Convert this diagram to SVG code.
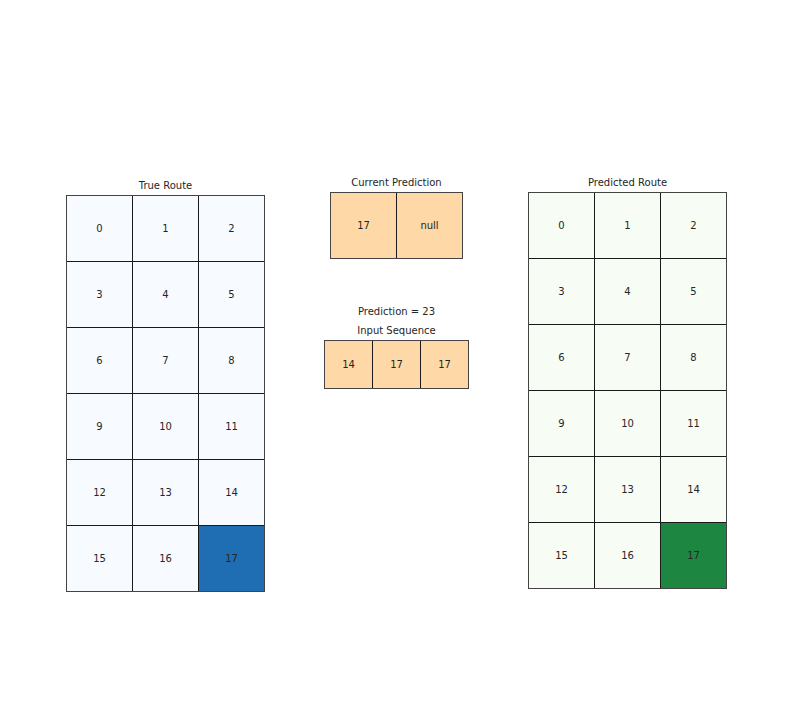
<svg xmlns="http://www.w3.org/2000/svg" width="792" height="720" viewBox="0 0 792 720">
<style>
text{font-family:"DejaVu Sans",Verdana,sans-serif;font-size:10px;fill:#262626;text-anchor:middle;dominant-baseline:central}
.c{stroke:#1a1a1a;stroke-width:1}
.b{fill:#f7fbff}.bd{fill:#1f6db3}
.g{fill:#f7fcf5}.gd{fill:#1d8641}
.o{fill:#fed8a6}
.frame{fill:none;stroke:#444;stroke-width:1}
</style>
<rect width="792" height="720" fill="#fff"/>
<g transform="translate(0.5,0.5)">
<g id="true-route">
<text x="165" y="185">True Route</text>
<rect class="c b" x="66" y="195" width="66" height="66"/><text x="99" y="228">0</text>
<rect class="c b" x="132" y="195" width="66" height="66"/><text x="165" y="228">1</text>
<rect class="c b" x="198" y="195" width="66" height="66"/><text x="231" y="228">2</text>
<rect class="c b" x="66" y="261" width="66" height="66"/><text x="99" y="294">3</text>
<rect class="c b" x="132" y="261" width="66" height="66"/><text x="165" y="294">4</text>
<rect class="c b" x="198" y="261" width="66" height="66"/><text x="231" y="294">5</text>
<rect class="c b" x="66" y="327" width="66" height="66"/><text x="99" y="360">6</text>
<rect class="c b" x="132" y="327" width="66" height="66"/><text x="165" y="360">7</text>
<rect class="c b" x="198" y="327" width="66" height="66"/><text x="231" y="360">8</text>
<rect class="c b" x="66" y="393" width="66" height="66"/><text x="99" y="426">9</text>
<rect class="c b" x="132" y="393" width="66" height="66"/><text x="165" y="426">10</text>
<rect class="c b" x="198" y="393" width="66" height="66"/><text x="231" y="426">11</text>
<rect class="c b" x="66" y="459" width="66" height="66"/><text x="99" y="492">12</text>
<rect class="c b" x="132" y="459" width="66" height="66"/><text x="165" y="492">13</text>
<rect class="c b" x="198" y="459" width="66" height="66"/><text x="231" y="492">14</text>
<rect class="c b" x="66" y="525" width="66" height="66"/><text x="99" y="558">15</text>
<rect class="c b" x="132" y="525" width="66" height="66"/><text x="165" y="558">16</text>
<rect class="c bd" x="198" y="525" width="66" height="66"/><text x="231" y="558">17</text>
<rect class="frame" x="66" y="195" width="198" height="396"/>
</g>
<g id="current-prediction">
<text x="396" y="182">Current Prediction</text>
<rect class="c o" x="330" y="192" width="66" height="66"/><text x="363" y="225">17</text>
<rect class="c o" x="396" y="192" width="66" height="66"/><text x="429" y="225">null</text>
<rect class="frame" x="330" y="192" width="132" height="66"/>
</g>
<g id="input-sequence">
<text x="396" y="311">Prediction = 23</text>
<text x="396" y="330">Input Sequence</text>
<rect class="c o" x="324" y="340" width="48" height="48"/><text x="348" y="364">14</text>
<rect class="c o" x="372" y="340" width="48" height="48"/><text x="396" y="364">17</text>
<rect class="c o" x="420" y="340" width="48" height="48"/><text x="444" y="364">17</text>
<rect class="frame" x="324" y="340" width="144" height="48"/>
</g>
<g id="predicted-route">
<text x="627" y="182">Predicted Route</text>
<rect class="c g" x="528" y="192" width="66" height="66"/><text x="561" y="225">0</text>
<rect class="c g" x="594" y="192" width="66" height="66"/><text x="627" y="225">1</text>
<rect class="c g" x="660" y="192" width="66" height="66"/><text x="693" y="225">2</text>
<rect class="c g" x="528" y="258" width="66" height="66"/><text x="561" y="291">3</text>
<rect class="c g" x="594" y="258" width="66" height="66"/><text x="627" y="291">4</text>
<rect class="c g" x="660" y="258" width="66" height="66"/><text x="693" y="291">5</text>
<rect class="c g" x="528" y="324" width="66" height="66"/><text x="561" y="357">6</text>
<rect class="c g" x="594" y="324" width="66" height="66"/><text x="627" y="357">7</text>
<rect class="c g" x="660" y="324" width="66" height="66"/><text x="693" y="357">8</text>
<rect class="c g" x="528" y="390" width="66" height="66"/><text x="561" y="423">9</text>
<rect class="c g" x="594" y="390" width="66" height="66"/><text x="627" y="423">10</text>
<rect class="c g" x="660" y="390" width="66" height="66"/><text x="693" y="423">11</text>
<rect class="c g" x="528" y="456" width="66" height="66"/><text x="561" y="489">12</text>
<rect class="c g" x="594" y="456" width="66" height="66"/><text x="627" y="489">13</text>
<rect class="c g" x="660" y="456" width="66" height="66"/><text x="693" y="489">14</text>
<rect class="c g" x="528" y="522" width="66" height="66"/><text x="561" y="555">15</text>
<rect class="c g" x="594" y="522" width="66" height="66"/><text x="627" y="555">16</text>
<rect class="c gd" x="660" y="522" width="66" height="66"/><text x="693" y="555">17</text>
<rect class="frame" x="528" y="192" width="198" height="396"/>
</g>
<g id="connectors"/>
</g>
</svg>
